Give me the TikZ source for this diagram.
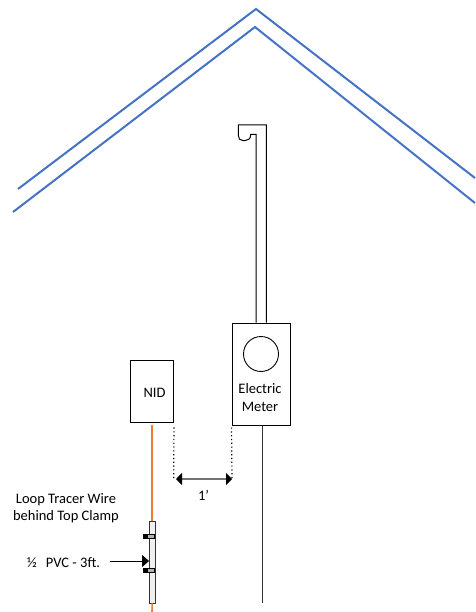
\documentclass[tikz,border=0pt]{standalone}
\usepackage{fontspec}
\setmainfont{Carlito}
\usetikzlibrary{arrows.meta,positioning}
\definecolor{roofblue}{HTML}{4472C4}
\definecolor{wireorange}{HTML}{ED7D31}
\begin{document}
\begin{tikzpicture}[x=1pt,y=-1pt,
    box/.style={draw,line width=1pt,inner sep=0pt},
    lbl/.style={inner sep=0pt,font=\fontsize{14.5}{17.5}\selectfont,align=center},
    roof/.style={draw=roofblue,line width=2pt},
    clamp/.style={draw=black,fill=gray!60,line width=0.6pt,minimum width=7pt,minimum height=3.5pt,inner sep=0pt},
    clampend/.style={draw=black,fill=black,minimum width=4pt,minimum height=4pt,inner sep=0pt},
    guide/.style={line width=1.2pt,dash pattern=on 1.2pt off 2.6pt},
    tip/.style={-{Triangle[length=7pt,width=12pt]}}]
    \useasboundingbox (0,0) rectangle (475,612);
    % roof
    \coordinate (r_a) at (18,189);
    \coordinate (r_b) at (256,9);
    \coordinate (r_c) at (475,178);
    \coordinate (r_d) at (13,212);
    \coordinate (r_e) at (255,27);
    \coordinate (r_f) at (475,203);
    \draw[roof] (r_a) -- (r_b) -- (r_c);
    \draw[roof] (r_d) -- (r_e) -- (r_f);
    % boxes
    \node[box,minimum width=58pt,minimum height=102pt] (meter) at (261,374) {};
    \node[box,minimum width=42.5pt,minimum height=62.5pt] (nid) at (152.2,391.7) {};
    \node[draw,circle,line width=0.9pt,minimum size=35pt,inner sep=0pt] (dial) at (261,354) {};
    \node[lbl] (nid_txt) at (154.5,392.5) {NID};
    \node[lbl,anchor=north] (meter_lbl) at (260,383.5) {Electric\\Meter};
    % mast with hook
    \draw[line width=1pt] (meter.north -| 256,0) -- (256,134.3) -- (250.7,134.3)
        .. controls (250.7,139) and (248,140.6) .. (245,140.6) -- (243,140.6)
        .. controls (240,140.6) and (238.3,138.5) .. (238.3,135.5) -- (238.3,125) -- (266.3,125) -- (meter.north -| 266.3,0);
    % pvc
    \node[draw=black!80,fill=gray!12,line width=0.9pt,minimum width=6pt,minimum height=82pt,inner sep=0pt] (pvc) at (152.5,562) {};
    \node[clamp] (clamp_a) at (151,536.5) {};
    \node[clampend] (end_a) [left=0pt of clamp_a] {};
    \node[clamp] (clamp_b) at (151,570.5) {};
    \node[clampend] (end_b) [left=0pt of clamp_b] {};
    % wires
    \coordinate (w_end) at (262,603);
    \coordinate (o_end) at (152,612);
    \draw[wireorange,line width=1.6pt] (nid.south |- 0,425) -- (pvc.north -| nid.south);
    \draw[wireorange,line width=1.6pt] (pvc.south -| nid.south) -- (o_end);
    \draw[line width=0.9pt,black!80] (meter.south -| w_end) -- (w_end);
    % dotted guides
    \coordinate (d_a) at (173.7,478);
    \coordinate (d_b) at (232,478);
    \coordinate (a_l) at (176,479);
    \coordinate (a_r) at (232,479);
    \draw[guide] (nid.south east)++(0,4) -- (d_a);
    \draw[guide] (meter.south west)++(0,2) -- (d_b);
    \draw[{Triangle[length=6pt,width=12pt,color=black]}-{Triangle[length=6pt,width=12pt,color=black]},line width=1.1pt,black!55] (a_l) -- (a_r);
    \node[lbl] (gap) at (203.5,495) {1'};
    % labels
    \node[lbl] (tracer) at (66,508) {Loop Tracer Wire\\behind Top Clamp};
    \node[lbl,anchor=west] (pvc_txt) at (27,562.5) {½\hspace{9pt}PVC - 3ft.};
    \coordinate (a_s) at (110,561);
    \draw[tip,line width=0.9pt] (a_s) -- (pvc.west |- a_s);
\end{tikzpicture}
\end{document}
